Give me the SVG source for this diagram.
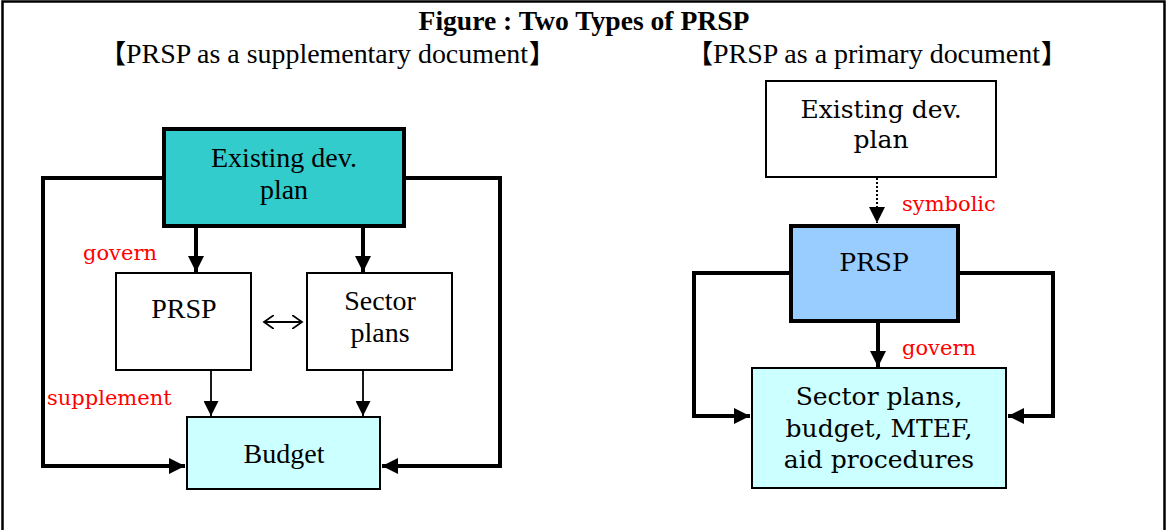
<svg xmlns="http://www.w3.org/2000/svg" width="1166" height="530" viewBox="0 0 1166 530">
<style>
.frame{fill:none;stroke:#000;stroke-width:2.5}
.title{font-family:"Liberation Serif",serif;font-weight:bold;font-size:27.6px;fill:#000}
.sub{font-family:"Liberation Serif",serif;font-size:28px;fill:#000}
.cjk{font-family:"Noto Sans CJK JP",sans-serif;font-weight:bold;font-size:26px;fill:#000}
.tl{font-family:"Liberation Serif",serif;font-size:28px;fill:#000}
.tr{font-family:"DejaVu Serif",serif;font-size:25px;fill:#000}
.red{font-family:"DejaVu Serif",serif;font-size:21px;fill:#ff0000}
.thick{fill:none;stroke:#000;stroke-width:4;stroke-linejoin:miter}
.thin{fill:none;stroke:#000;stroke-width:1.8}
.bx{stroke:#000;stroke-width:2}
.bxk{stroke:#000;stroke-width:4}
</style>
<defs>
<marker id="ah" markerUnits="userSpaceOnUse" markerWidth="18" markerHeight="16" refX="16" refY="8" orient="auto">
<path d="M0,0 L16,8 L0,16 Z" fill="#000"/>
</marker>
<marker id="ahs" markerUnits="userSpaceOnUse" markerWidth="16" markerHeight="15" refX="15" refY="7.5" orient="auto">
<path d="M0,0 L15,7.5 L0,15 Z" fill="#000"/>
</marker>
<marker id="open" markerUnits="userSpaceOnUse" markerWidth="12" markerHeight="14" refX="10" refY="7" orient="auto-start-reverse">
<path d="M0,0 L10,7 L0,14" fill="none" stroke="#000" stroke-width="1.8"/>
</marker>
</defs>
<path class="frame" d="M2.5,532 V1.5 H1164.5 V532"/>
<text class="title" x="584" y="30" text-anchor="middle">Figure : Two Types of PRSP</text>

<text class="cjk" x="126" y="63" text-anchor="end">【</text>
<text class="sub" x="126" y="63" textLength="402" lengthAdjust="spacingAndGlyphs">PRSP as a supplementary document</text>
<text class="cjk" x="529" y="63">】</text>

<text class="cjk" x="713" y="63" text-anchor="end">【</text>
<text class="sub" x="713" y="63" textLength="327" lengthAdjust="spacingAndGlyphs">PRSP as a primary document</text>
<text class="cjk" x="1041" y="63">】</text>

<g id="connectors">
<path class="thick" d="M163,178 H43 V466 H185" marker-end="url(#ah)"/>
<path class="thick" d="M405,178 H500 V466 H382" marker-end="url(#ah)"/>
<path class="thick" d="M196,227 V272" marker-end="url(#ah)"/>
<path class="thick" d="M363,227 V272" marker-end="url(#ah)"/>
<path class="thin" d="M211,370 V416" marker-end="url(#ahs)"/>
<path class="thin" d="M363,370 V416" marker-end="url(#ahs)"/>
<path class="thin" d="M264,322 H302" marker-start="url(#open)" marker-end="url(#open)"/>
<path d="M877,178 V223" fill="none" stroke="#000" stroke-width="2" stroke-dasharray="2,2" marker-end="url(#ah)"/>
<path class="thick" d="M790,273 H694 V416 H750" marker-end="url(#ah)"/>
<path class="thick" d="M958,273 H1053 V416 H1008" marker-end="url(#ah)"/>
<path class="thick" d="M878,322 V367" marker-end="url(#ah)"/>
</g>

<g id="labels">
<text class="red" x="83" y="260">govern</text>
<text class="red" x="47" y="405">supplement</text>
<text class="red" x="902" y="211">symbolic</text>
<text class="red" x="902" y="355">govern</text>
</g>

<g id="left-existing">
<rect class="bxk" x="164" y="129" width="240" height="97" fill="#33cccc"/>
<text class="tl" x="284" y="167" text-anchor="middle">Existing dev.</text>
<text class="tl" x="284" y="199" text-anchor="middle">plan</text>
</g>
<g id="left-prsp">
<rect class="bx" x="116" y="273" width="135" height="97" fill="#fff"/>
<text class="tl" x="184" y="318" text-anchor="middle">PRSP</text>
</g>
<g id="left-sector">
<rect class="bx" x="307" y="273" width="145" height="97" fill="#fff"/>
<text class="tl" x="380" y="310" text-anchor="middle">Sector</text>
<text class="tl" x="380" y="342" text-anchor="middle">plans</text>
</g>
<g id="left-budget">
<rect class="bx" x="187" y="417" width="193" height="72" fill="#ccffff"/>
<text class="tl" x="284" y="463" text-anchor="middle">Budget</text>
</g>

<g id="right-existing">
<rect class="bx" x="766" y="81" width="230" height="96" fill="#fff"/>
<text class="tr" x="881" y="118" text-anchor="middle">Existing dev.</text>
<text class="tr" x="881" y="148" text-anchor="middle">plan</text>
</g>
<g id="right-prsp">
<rect class="bxk" x="791" y="226" width="167" height="95" fill="#99ccff"/>
<text class="tr" x="874" y="271" text-anchor="middle">PRSP</text>
</g>
<g id="right-sector">
<rect class="bx" x="752" y="368" width="254" height="120" fill="#ccffff"/>
<text class="tr" x="879" y="405" text-anchor="middle">Sector plans,</text>
<text class="tr" x="879" y="437" text-anchor="middle">budget, MTEF,</text>
<text class="tr" x="879" y="468" text-anchor="middle">aid procedures</text>
</g>
</svg>
